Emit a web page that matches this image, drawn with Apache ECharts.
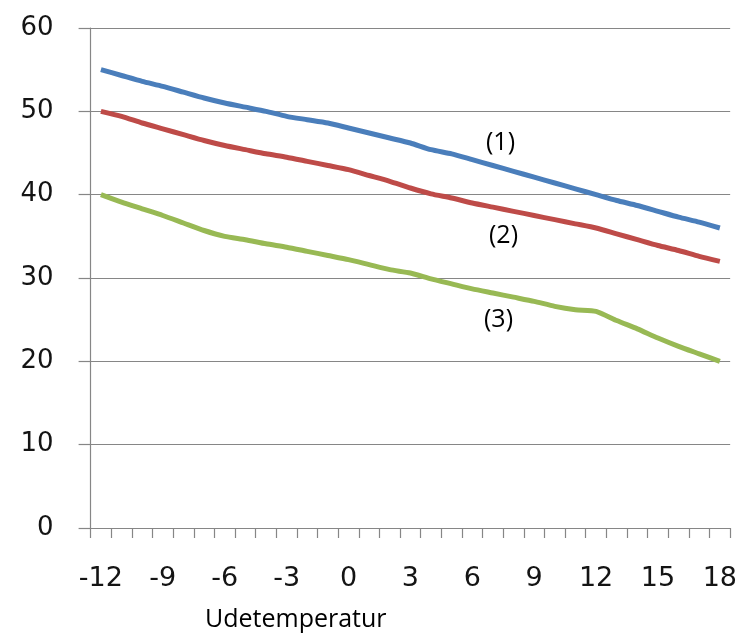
<!DOCTYPE html>
<html>
<head>
<meta charset="utf-8">
<script src="https://cdn.jsdelivr.net/npm/echarts@6/dist/echarts.min.js"></script>
<style>
html,body{margin:0;padding:0;background:#fff;}
#c{width:740px;height:635px;}
</style>
</head>
<body>
<div id="c"></div>
<script>
const categories = [-12,-11,-10,-9,-8,-7,-6,-5,-4,-3,-2,-1,0,1,2,3,4,5,6,7,8,9,10,11,12,13,14,15,16,17,18].map(String);
const series1 = [55.0,54.3,53.6,53.0,52.3,51.6,51.0,50.5,50.0,49.4,49.0,48.6,48.0,47.4,46.8,46.2,45.4,44.9,44.2,43.5,42.8,42.1,41.4,40.7,40.0,39.3,38.7,38.0,37.3,36.7,36.0];
const series2 = [50.0,49.4,48.6,47.9,47.2,46.5,45.9,45.4,44.9,44.5,44.0,43.5,43.0,42.3,41.6,40.8,40.1,39.6,39.0,38.5,38.0,37.5,37.0,36.5,36.0,35.3,34.6,33.9,33.3,32.6,32.0];
const series3 = [40.0,39.1,38.3,37.5,36.6,35.7,35.0,34.6,34.1,33.7,33.2,32.7,32.2,31.6,31.0,30.6,29.9,29.3,28.7,28.2,27.7,27.2,26.6,26.2,26.0,24.9,23.9,22.8,21.8,20.9,20.0];
const seriesNames = ['(1)','(2)','(3)'];
const xAxisTitle = 'Udetemperatur';
const yTicks = {min:0, max:60, interval:10};

const chart = echarts.init(document.getElementById('c'), null, {renderer:'canvas'});
const gray = '#868686';
const lineSeries = (name, data, color) => ({
  name, type:'line', data, showSymbol:false, smooth:0.2,
  lineStyle:{color, width:5}, itemStyle:{color}
});
chart.setOption({
  animation:false,
  backgroundColor:'#ffffff',
  grid:{left:90.6, right:8, top:28, bottom:107, containLabel:false},
  xAxis:{
    type:'category', data:categories, boundaryGap:true,
    axisLine:{show:true, lineStyle:{color:gray, width:1.2}},
    axisTick:{show:true, interval:0, length:10, lineStyle:{color:gray, width:1.2}},
    axisLabel:{interval:2, margin:37, color:'#141414', fontFamily:'DejaVu Sans', fontSize:27},
    splitLine:{show:false}
  },
  yAxis:{
    type:'value', min:yTicks.min, max:yTicks.max, interval:yTicks.interval,
    axisLine:{show:true, lineStyle:{color:gray, width:1.2}},
    axisTick:{show:true, length:12, lineStyle:{color:gray, width:1.2}},
    axisLabel:{margin:37, color:'#141414', fontFamily:'DejaVu Sans', fontSize:26},
    splitLine:{show:true, lineStyle:{color:gray, width:1.2}}
  },
  series:[
    lineSeries(seriesNames[0], series1, '#4a7ebb'),
    lineSeries(seriesNames[1], series2, '#be4b48'),
    lineSeries(seriesNames[2], series3, '#98b954')
  ],
  graphic:[
    {type:'text', left:486, top:130, style:{text:seriesNames[0], fill:'#000', font:'25px "Open Sans"'}},
    {type:'text', left:489, top:223, style:{text:seriesNames[1], fill:'#000', font:'25px "Open Sans"'}},
    {type:'text', left:484, top:307, style:{text:seriesNames[2], fill:'#000', font:'25px "Open Sans"'}},
    {type:'text', left:205, top:607, style:{text:xAxisTitle, fill:'#000', font:'25px "Open Sans"'}}
  ]
});
</script>
</body>
</html>
